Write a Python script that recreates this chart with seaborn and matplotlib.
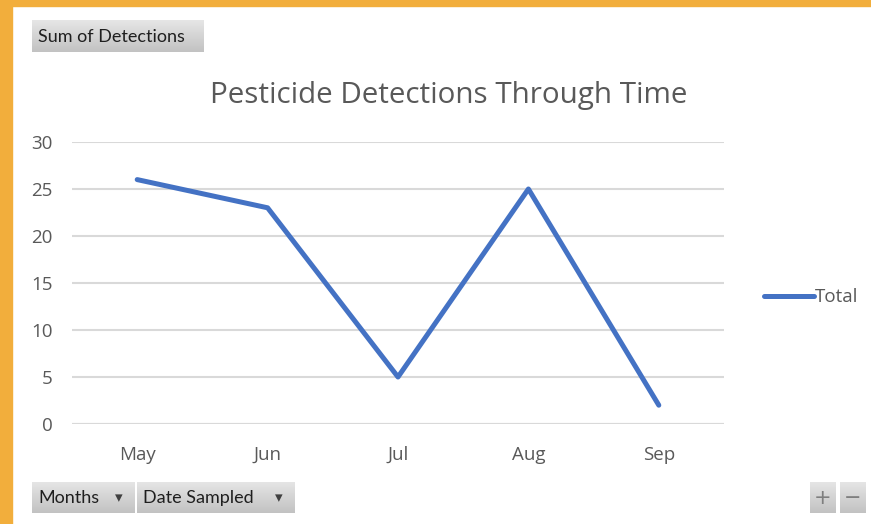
import numpy as np
import pandas as pd
import matplotlib
matplotlib.use("Agg")
import matplotlib.pyplot as plt
import seaborn as sns
from matplotlib.patches import Rectangle
from matplotlib.colors import LinearSegmentedColormap

# data
months = ["May", "Jun", "Jul", "Aug", "Sep"]
detections = [26, 23, 5, 25, 2]
y_ticks = [0, 5, 10, 15, 20, 25, 30]

LINE_BLUE = "#4472C4"
GRID = "#D9D9D9"
TEXT_GREY = "#595959"
ORANGE = "#F2AE3C"

sns.set_theme(style="white")
plt.rcParams["font.family"] = ["Open Sans", "DejaVu Sans"]

W, H = 871, 524
fig = plt.figure(figsize=(W / 100, H / 100), dpi=100)
fig.patch.set_facecolor("white")


def px_axes(x0, y0, x1, y1):
    """add axes from pixel box (top-left origin)"""
    return fig.add_axes([x0 / W, 1 - y1 / H, (x1 - x0) / W, (y1 - y0) / H])


# orange frame on the left and top
fig.patches.append(Rectangle((0, 0), 12 / W, 1, transform=fig.transFigure,
                             color=ORANGE, zorder=0))
fig.patches.append(Rectangle((0, 1 - 6 / H), 1, 6 / H, transform=fig.transFigure,
                             color=ORANGE, zorder=0))

# main plot
ax = px_axes(72, 142, 724, 424)
df = pd.DataFrame({"Month": months, "Total": detections})
sns.lineplot(data=df, x="Month", y="Total", ax=ax, color=LINE_BLUE,
             linewidth=3.6, sort=False, label="Total", solid_capstyle="round")

ax.set_xlim(-0.5, len(months) - 0.5)
ax.set_ylim(0, 30)
ax.set_yticks(y_ticks)
ax.yaxis.grid(True, color=GRID, linewidth=1.5)
ax.set_axisbelow(True)
for side in ["top", "right", "left", "bottom"]:
    ax.spines[side].set_visible(False)
ax.axhline(0, color=GRID, linewidth=1.5, zorder=1)
ax.tick_params(axis="y", length=0, pad=14, labelsize=13.5, labelcolor=TEXT_GREY)
ax.tick_params(axis="x", length=0, pad=16, labelsize=13.5, labelcolor=TEXT_GREY)
ax.set_xlabel("")
ax.set_ylabel("")
ax.set_facecolor("white")

fig.text(449 / W, 1 - 95 / H, "Pesticide Detections Through Time",
         ha="center", va="center", fontsize=21.3, color=TEXT_GREY)

# legend off to the right
leg = ax.legend(loc="center left", bbox_to_anchor=(1.035, 0.45), frameon=False,
                fontsize=13.5, handlelength=2.7, handletextpad=0.05,
                labelcolor=TEXT_GREY)
for h in leg.get_lines():
    h.set_linewidth(3.6)

# pivot field buttons
grad = np.linspace(0, 1, 50).reshape(-1, 1)
btn_cmap = LinearSegmentedColormap.from_list("btn", ["#E6E6E6", "#C2C2C2"])


def button(x0, y0, x1, y1, text=None, arrow=False, symbol=None):
    b = px_axes(x0, y0, x1, y1)
    b.imshow(grad, aspect="auto", cmap=btn_cmap, extent=[0, 1, 0, 1])
    b.set_xlim(0, 1)
    b.set_ylim(0, 1)
    b.axis("off")
    if text:
        b.text(6 / (x1 - x0), 0.48, text, ha="left", va="center", fontsize=13,
               color="#1F1F1F", family=["Lato", "DejaVu Sans"])
    if arrow:
        b.text(1 - 15 / (x1 - x0), 0.5, "\u25BE", ha="center", va="center",
               fontsize=11, color="#404040", family=["DejaVu Sans"])
    if symbol:
        b.text(0.5, 0.5, symbol, ha="center", va="center", fontsize=15,
               color="#7F7F7F", family=["DejaVu Sans"])


button(32, 20, 203, 52, "Sum of Detections")
button(32, 482, 134, 513, "Months", arrow=True)
button(137, 482, 294, 513, "Date Sampled", arrow=True)
button(810, 482, 836, 513, symbol="+")
button(840, 482, 866, 513, symbol="\u2212")

fig.savefig("out.png", dpi=100, facecolor=fig.get_facecolor())
